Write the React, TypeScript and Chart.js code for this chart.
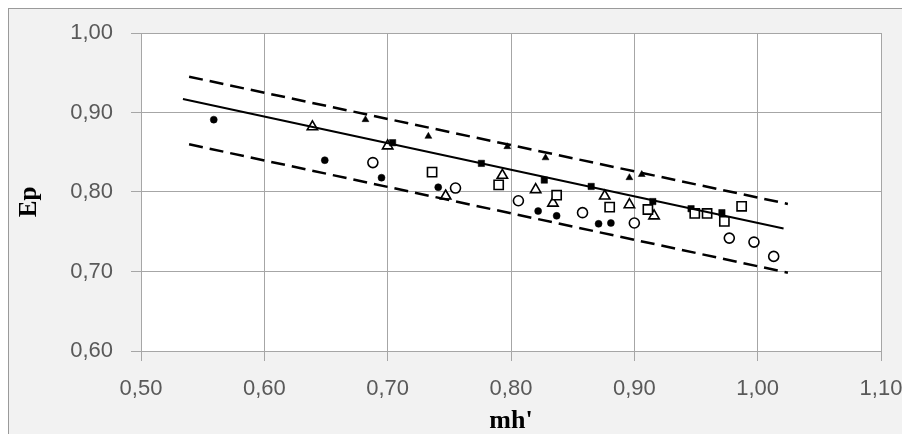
import React, { useEffect, useRef } from "react";
import { Chart, registerables } from "chart.js";

Chart.register(...registerables);

// Axis ranges / ticks
const xTickValues = [0.5, 0.6, 0.7, 0.8, 0.9, 1.0, 1.1];
const yTickValues = [0.6, 0.7, 0.8, 0.9, 1.0];
const xTitle = "mh'";
const yTitle = "Ep";

// Filled small circles
const filledCircleX = [0.559, 0.649, 0.695, 0.741, 0.822, 0.837, 0.871, 0.881];
const filledCircleY = [0.891, 0.840, 0.818, 0.806, 0.776, 0.770, 0.760, 0.761];

// Open circles
const openCircleX = [0.688, 0.755, 0.806, 0.858, 0.900, 0.977, 0.997, 1.013];
const openCircleY = [0.837, 0.805, 0.789, 0.774, 0.761, 0.742, 0.737, 0.719];

// Open squares
const openSquareX = [0.736, 0.790, 0.837, 0.880, 0.911, 0.949, 0.959, 0.973, 0.987];
const openSquareY = [0.825, 0.809, 0.796, 0.781, 0.778, 0.773, 0.773, 0.763, 0.782];

// Filled small squares
const filledSquareX = [0.704, 0.776, 0.827, 0.865, 0.915, 0.946, 0.971];
const filledSquareY = [0.862, 0.836, 0.815, 0.807, 0.788, 0.779, 0.774];

// Filled small triangles
const filledTriangleX = [0.682, 0.733, 0.797, 0.828, 0.896, 0.906];
const filledTriangleY = [0.891, 0.870, 0.857, 0.843, 0.818, 0.822];

// Open triangles
const openTriangleX = [0.639, 0.700, 0.747, 0.793, 0.820, 0.834, 0.876, 0.896, 0.916];
const openTriangleY = [0.882, 0.858, 0.795, 0.821, 0.803, 0.786, 0.795, 0.784, 0.770];

// Regression line and bounds (end points)
const fitX = [0.534, 1.021];
const fitY = [0.917, 0.754];
const upperX = [0.539, 1.0245];
const upperY = [0.945, 0.785];
const lowerX = [0.539, 1.0245];
const lowerY = [0.860, 0.6985];

const pts = (xs: number[], ys: number[]) => xs.map((x, i) => ({ x, y: ys[i] }));
const fmt = (v: number) => v.toFixed(2).replace(".", ",");

const plotBg = {
  id: "plotBg",
  beforeDraw(chart: any) {
    const { ctx, chartArea: a } = chart;
    ctx.save();
    ctx.fillStyle = "#ffffff";
    ctx.fillRect(a.left, a.top, a.right - a.left, a.bottom - a.top);
    ctx.restore();
  },
};

const yTitlePlugin = {
  id: "yTitlePlugin",
  afterDraw(chart: any) {
    const { ctx, chartArea: a } = chart;
    ctx.save();
    ctx.translate(21, (a.top + a.bottom) / 2 + 10);
    ctx.rotate(-Math.PI / 2);
    ctx.font = "bold 25px 'Liberation Serif', 'DejaVu Serif', serif";
    ctx.fillStyle = "#000000";
    ctx.textAlign = "center";
    ctx.textBaseline = "middle";
    ctx.fillText(yTitle, 0, 0);
    ctx.restore();
  },
};

const zeroPad = (s: any) => {
  s.paddingTop = 0;
  s.paddingBottom = 0;
  s.paddingLeft = 0;
  s.paddingRight = 0;
};

export default function App() {
  const ref = useRef<HTMLCanvasElement | null>(null);

  useEffect(() => {
    if (!ref.current) return;
    const grid = "#a6a6a6";
    const tickFont = { family: "'Liberation Sans', Arial, sans-serif", size: 22 };
    const chart = new Chart(ref.current, {
      type: "scatter",
      data: {
        datasets: [
          {
            type: "line",
            data: pts(fitX, fitY),
            borderColor: "#000",
            borderWidth: 2,
            pointRadius: 0,
            fill: false,
            order: 0,
          } as any,
          {
            type: "line",
            data: pts(upperX, upperY),
            borderColor: "#000",
            borderWidth: 2.5,
            borderDash: [14, 7],
            pointRadius: 0,
            fill: false,
            order: 0,
          } as any,
          {
            type: "line",
            data: pts(lowerX, lowerY),
            borderColor: "#000",
            borderWidth: 2.5,
            borderDash: [14, 7],
            pointRadius: 0,
            fill: false,
            order: 0,
          } as any,
          {
            data: pts(filledCircleX, filledCircleY),
            pointStyle: "circle",
            pointRadius: 3.5,
            backgroundColor: "#000",
            borderColor: "#000",
            borderWidth: 0.5,
            order: 1,
          },
          {
            data: pts(openCircleX, openCircleY),
            pointStyle: "circle",
            pointRadius: 5,
            backgroundColor: "#fff",
            borderColor: "#000",
            borderWidth: 1.6,
            order: 1,
          },
          {
            data: pts(openSquareX, openSquareY),
            pointStyle: "rect",
            pointRadius: 6.5,
            backgroundColor: "#fff",
            borderColor: "#000",
            borderWidth: 1.6,
            order: 1,
          },
          {
            data: pts(filledSquareX, filledSquareY),
            pointStyle: "rect",
            pointRadius: 4.5,
            backgroundColor: "#000",
            borderColor: "#000",
            borderWidth: 0.5,
            order: 1,
          },
          {
            data: pts(filledTriangleX, filledTriangleY),
            pointStyle: "triangle",
            pointRadius: 4,
            backgroundColor: "#000",
            borderColor: "#000",
            borderWidth: 0.5,
            order: 1,
          },
          {
            data: pts(openTriangleX, openTriangleY),
            pointStyle: "triangle",
            pointRadius: 6,
            backgroundColor: "#fff",
            borderColor: "#000",
            borderWidth: 1.6,
            order: 1,
          },
        ],
      },
      options: {
        animation: false,
        responsive: true,
        maintainAspectRatio: false,
        layout: { padding: { left: 0, top: 24, right: 29, bottom: 0 } },
        plugins: {
          legend: { display: false },
          tooltip: { enabled: false },
        },
        scales: {
          x: {
            type: "linear",
            min: xTickValues[0],
            max: xTickValues[xTickValues.length - 1],
            afterBuildTicks: (s: any) => {
              s.ticks = xTickValues.map((v) => ({ value: v }));
            },
            afterFit: (s: any) => {
              s.height = 83;
              zeroPad(s);
            },
            grid: { color: grid, lineWidth: 1, tickLength: 10, drawTicks: true },
            border: { color: grid, width: 1 },
            ticks: {
              callback: (v: any) => fmt(Number(v)),
              font: tickFont,
              color: "#595959",
              padding: 15,
              maxRotation: 0,
            },
            title: {
              display: true,
              text: xTitle,
              font: { family: "'Liberation Serif', 'DejaVu Serif', serif", size: 26, weight: "bold", lineHeight: 1 },
              color: "#000",
              padding: { top: 0, bottom: 0 },
            },
          },
          y: {
            type: "linear",
            min: yTickValues[0],
            max: yTickValues[yTickValues.length - 1],
            afterBuildTicks: (s: any) => {
              s.ticks = yTickValues.map((v) => ({ value: v }));
            },
            afterFit: (s: any) => {
              s.width = 132;
              zeroPad(s);
            },
            grid: { color: grid, lineWidth: 1, tickLength: 10, drawTicks: true },
            border: { color: grid, width: 1 },
            ticks: {
              callback: (v: any) => fmt(Number(v)),
              font: tickFont,
              color: "#595959",
              padding: 18,
            },
          },
        },
      },
      plugins: [plotBg, yTitlePlugin],
    });
    return () => chart.destroy();
  }, []);

  return (
    <div
      style={{
        width: 902,
        height: 426,
        boxSizing: "border-box",
        borderLeft: "1px solid #9a9a9a",
        borderTop: "1px solid #9a9a9a",
        background: "#f2f2f2",
      }}
    >
      <div style={{ position: "relative", width: 901, height: 425 }}>
        <canvas ref={ref} />
      </div>
    </div>
  );
}
